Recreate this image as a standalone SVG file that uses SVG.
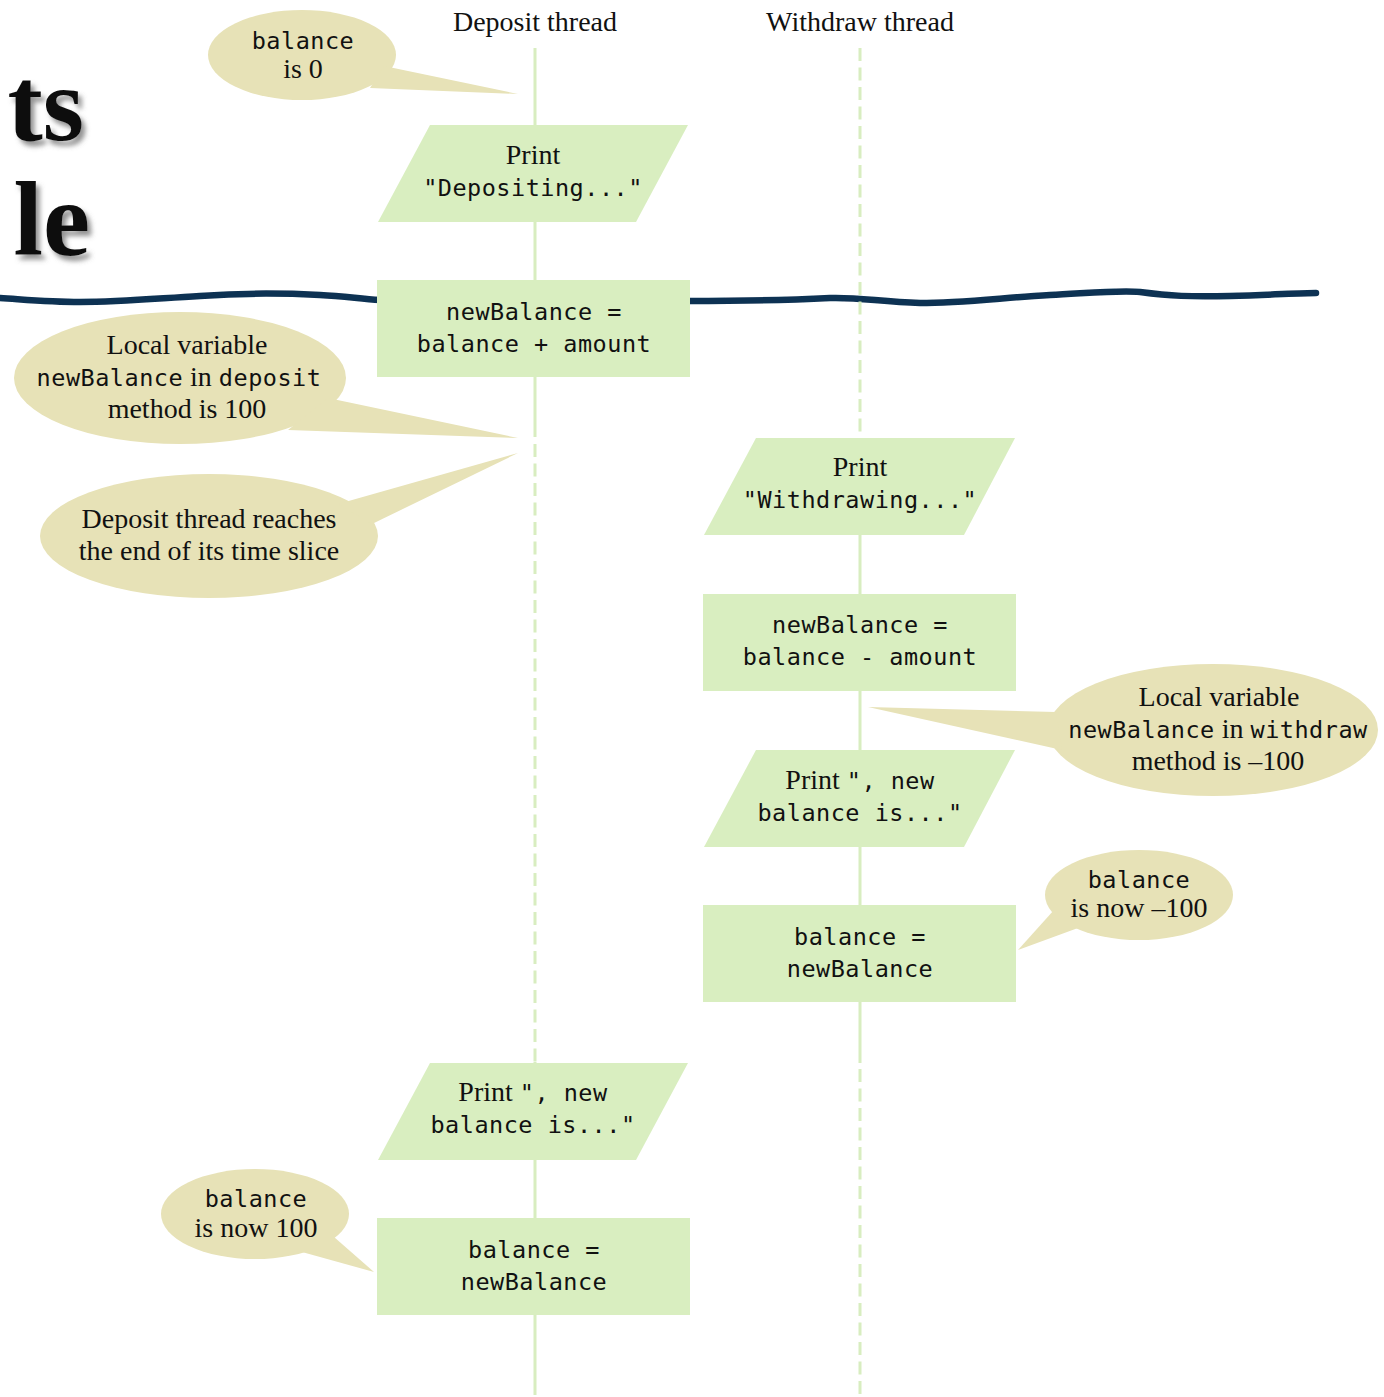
<svg xmlns="http://www.w3.org/2000/svg" width="1384" height="1397" viewBox="0 0 1384 1397">
  <defs>
    <filter id="shadow" x="-20%" y="-20%" width="150%" height="150%">
      <feDropShadow dx="4" dy="5" stdDeviation="2.5" flood-color="#666" flood-opacity="0.7"/>
    </filter>
    <filter id="soft" x="-5%" y="-200%" width="110%" height="500%">
      <feGaussianBlur stdDeviation="0.6"/>
    </filter>
  </defs>
  <style>
    .serif { font-family: "Liberation Serif", "Times New Roman", serif; font-size: 28px; fill: #111; }
    .head { font-family: "Liberation Serif", "Times New Roman", serif; font-size: 28px; fill: #111; }
    .mono { font-family: "DejaVu Sans Mono", "Liberation Mono", monospace; font-size: 23.5px; letter-spacing: 0.5px; fill: #111; }
    .title { font-family: "Liberation Serif", "Times New Roman", serif; font-weight: bold; font-size: 106px; fill: #111; }
    .node { fill: #d9eec0; }
    .bubble { fill: #e7e2b7; }
    .solid { stroke: #d8edc0; stroke-width: 3; fill: none; }
    .dash { stroke: #d8edc0; stroke-width: 3; fill: none; stroke-dasharray: 13 6.5; }
    .wave { stroke: #0f3253; stroke-width: 6.5; fill: none; stroke-linecap: round; }
  </style>
  <rect width="1384" height="1397" fill="#ffffff"/>

  <!-- cropped title -->
  <g id="title" filter="url(#shadow)">
    <text class="title" x="84" y="140" text-anchor="end">ts</text>
    <text class="title" x="90" y="255" text-anchor="end">le</text>
  </g>

  <!-- wavy line -->
  <g id="wave" filter="url(#soft)">
    <path class="wave" d="M0,298 C30,300 50,302 80,302 C120,302 150,299 200,296 C240,293 280,293 320,295 C345,296 360,299 380,300"/>
    <path class="wave" d="M688,301 C740,301 790,300 830,298 C860,297 880,302 920,303 C960,303 1000,298 1050,295 C1090,293 1120,290 1140,292 C1170,296 1190,297 1230,296 C1270,295 1300,293 1316,293"/>
  </g>

  <!-- thread labels -->
  <text class="head" x="535" y="31" text-anchor="middle">Deposit thread</text>
  <text class="head" x="860" y="31" text-anchor="middle">Withdraw thread</text>

  <!-- connectors -->
  <g id="connectors">
    <line class="solid" x1="535" y1="48" x2="535" y2="437"/>
    <line class="dash" x1="535" y1="444" x2="535" y2="1062"/>
    <line class="solid" x1="535" y1="1062" x2="535" y2="1395"/>
    <line class="dash" x1="860" y1="48" x2="860" y2="438"/>
    <line class="solid" x1="860" y1="438" x2="860" y2="1063"/>
    <line class="dash" x1="860" y1="1069" x2="860" y2="1395"/>
  </g>

  <!-- nodes -->
  <g id="n1">
    <polygon class="node" points="430,125 688,125 636,222 378,222"/>
    <text class="serif" x="533" y="164" text-anchor="middle">Print</text>
    <text class="mono" x="533" y="196" text-anchor="middle">"Depositing..."</text>
  </g>
  <g id="n2">
    <rect class="node" x="377" y="280" width="313" height="97"/>
    <text class="mono" x="534" y="320" text-anchor="middle">newBalance =</text>
    <text class="mono" x="534" y="352" text-anchor="middle">balance + amount</text>
  </g>
  <g id="n3">
    <polygon class="node" points="756,438 1015,438 964,535 704,535"/>
    <text class="serif" x="860" y="476" text-anchor="middle">Print</text>
    <text class="mono" x="860" y="508" text-anchor="middle">"Withdrawing..."</text>
  </g>
  <g id="n4">
    <rect class="node" x="703" y="594" width="313" height="97"/>
    <text class="mono" x="860" y="633" text-anchor="middle">newBalance =</text>
    <text class="mono" x="860" y="665" text-anchor="middle">balance - amount</text>
  </g>
  <g id="n5">
    <polygon class="node" points="756,750 1015,750 964,847 704,847"/>
    <text x="860" y="789" text-anchor="middle"><tspan class="serif">Print </tspan><tspan class="mono">", new</tspan></text>
    <text class="mono" x="860" y="821" text-anchor="middle">balance is..."</text>
  </g>
  <g id="n6">
    <rect class="node" x="703" y="905" width="313" height="97"/>
    <text class="mono" x="860" y="945" text-anchor="middle">balance =</text>
    <text class="mono" x="860" y="977" text-anchor="middle">newBalance</text>
  </g>
  <g id="n7">
    <polygon class="node" points="430,1063 688,1063 636,1160 378,1160"/>
    <text x="533" y="1101" text-anchor="middle"><tspan class="serif">Print </tspan><tspan class="mono">", new</tspan></text>
    <text class="mono" x="533" y="1133" text-anchor="middle">balance is..."</text>
  </g>
  <g id="n8">
    <rect class="node" x="377" y="1218" width="313" height="97"/>
    <text class="mono" x="534" y="1258" text-anchor="middle">balance =</text>
    <text class="mono" x="534" y="1290" text-anchor="middle">newBalance</text>
  </g>

  <!-- callouts -->
  <g id="c1">
    <ellipse class="bubble" cx="302" cy="55" rx="94" ry="45"/>
    <polygon class="bubble" points="384,66 518,94 370,88"/>
    <text class="mono" x="303" y="49" text-anchor="middle">balance</text>
    <text class="serif" x="303" y="78" text-anchor="middle">is 0</text>
  </g>
  <g id="c2">
    <ellipse class="bubble" cx="180" cy="378" rx="166" ry="66"/>
    <polygon class="bubble" points="328,398 518,438 288,430"/>
    <text class="serif" x="187" y="354" text-anchor="middle">Local variable</text>
    <text x="179" y="386" text-anchor="middle"><tspan class="mono">newBalance</tspan><tspan class="serif"> in </tspan><tspan class="mono">deposit</tspan></text>
    <text class="serif" x="187" y="418" text-anchor="middle">method is 100</text>
  </g>
  <g id="c3">
    <ellipse class="bubble" cx="209" cy="536" rx="169" ry="62"/>
    <polygon class="bubble" points="338,504 518,453 372,524"/>
    <text class="serif" x="209" y="528" text-anchor="middle">Deposit thread reaches</text>
    <text class="serif" x="209" y="560" text-anchor="middle">the end of its time slice</text>
  </g>
  <g id="c4">
    <ellipse class="bubble" cx="1213" cy="730" rx="165" ry="66"/>
    <polygon class="bubble" points="868,707 1056,712 1062,750"/>
    <text class="serif" x="1219" y="706" text-anchor="middle">Local variable</text>
    <text x="1218" y="738" text-anchor="middle"><tspan class="mono">newBalance</tspan><tspan class="serif"> in </tspan><tspan class="mono">withdraw</tspan></text>
    <text class="serif" x="1218" y="770" text-anchor="middle">method is –100</text>
  </g>
  <g id="c5">
    <ellipse class="bubble" cx="1139" cy="895" rx="94" ry="45"/>
    <polygon class="bubble" points="1054,910 1018,950 1078,928"/>
    <text class="mono" x="1139" y="888" text-anchor="middle">balance</text>
    <text class="serif" x="1139" y="917" text-anchor="middle">is now –100</text>
  </g>
  <g id="c6">
    <ellipse class="bubble" cx="255" cy="1214" rx="94" ry="45"/>
    <polygon class="bubble" points="326,1230 374,1272 302,1252"/>
    <text class="mono" x="256" y="1207" text-anchor="middle">balance</text>
    <text class="serif" x="256" y="1237" text-anchor="middle">is now 100</text>
  </g>
</svg>
